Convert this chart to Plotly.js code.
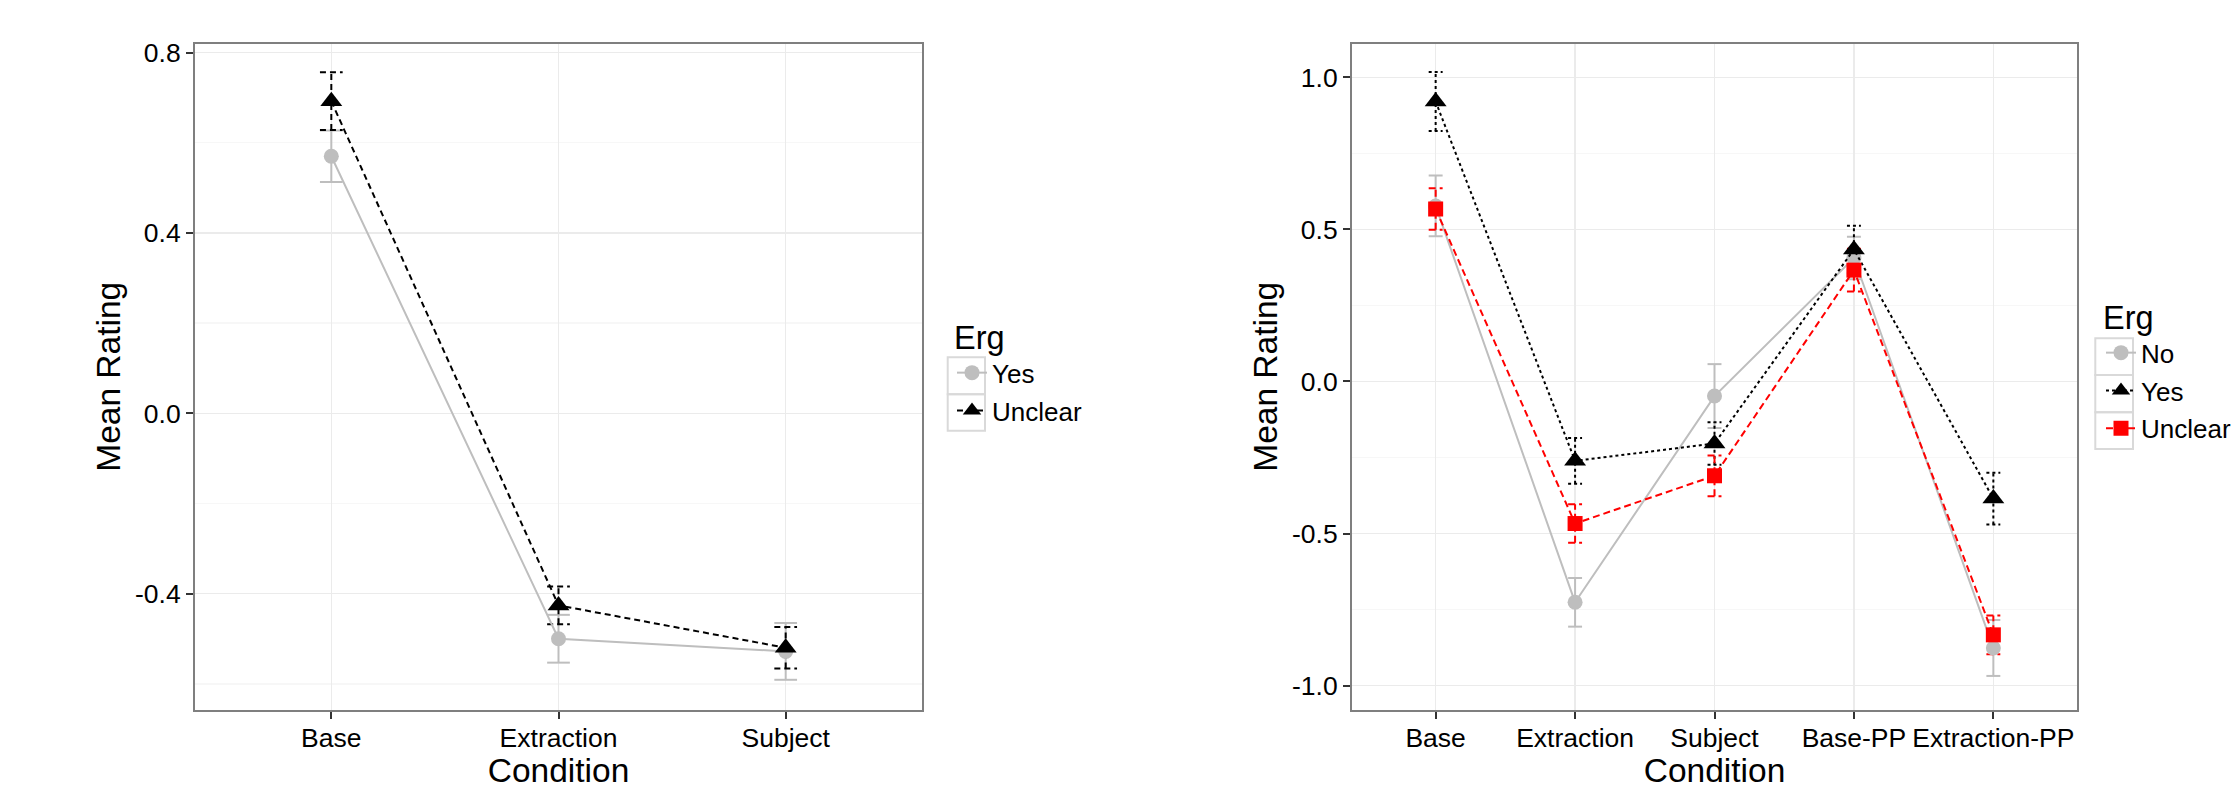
<!DOCTYPE html>
<html>
<head>
<meta charset="utf-8">
<script src="https://cdn.plot.ly/plotly-3.0.1.min.js"></script>
<style>
  html, body { margin: 0; padding: 0; background: #ffffff; }
  #chart { width: 2234px; height: 789px; }
</style>
</head>
<body>
<div id="chart"></div>
<script>
// ---------- Data ----------
const catsLeft = ['Base', 'Extraction', 'Subject'];
const leftYes = [0.570, -0.500, -0.528];
const leftYesSE = [0.057, 0.053, 0.063];
const leftUnclear = [0.692, -0.426, -0.520];
const leftUnclearSE = [0.064, 0.042, 0.046];
const leftYTicks = [-0.4, 0.0, 0.4, 0.8];
const leftYMinor = [-0.6, -0.2, 0.2, 0.6];

const catsRight = ['Base', 'Extraction', 'Subject', 'Base-PP', 'Extraction-PP'];
const rightNo = [0.577, -0.726, -0.048, 0.406, -0.876];
const rightNoSE = [0.100, 0.080, 0.105, 0.070, 0.092];
const rightYes = [0.920, -0.261, -0.204, 0.434, -0.385];
const rightYesSE = [0.097, 0.075, 0.070, 0.078, 0.085];
const rightUnclear = [0.567, -0.467, -0.310, 0.366, -0.833];
const rightUnclearSE = [0.068, 0.063, 0.067, 0.070, 0.064];
const rightYTicks = [-1.0, -0.5, 0.0, 0.5, 1.0];
const rightYMinor = [-0.75, -0.25, 0.25, 0.75];

const legendTitle = 'Erg';
const xTitle = 'Condition';
const yTitle = 'Mean Rating';

// ---------- Styles ----------
const FONT = 'Liberation Sans, Arial, sans-serif';
const GREY = '#bebebe';
const BLACK = '#000000';
const RED = '#ff0000';
const W = 2234, H = 789;
const CAP = 0.05;
const TICK_SIZE = 26.5;
const TITLE_SIZE = 33.5;

function idx(cats) { return cats.map((c, i) => i); }

function errorTrace(cats, vals, se, color, dash, xa, ya) {
  const x = [], y = [];
  vals.forEach((v, i) => {
    const lo = v - se[i], hi = v + se[i];
    x.push(i, i, null, i - CAP, i + CAP, null, i - CAP, i + CAP, null);
    y.push(lo, hi, null, hi, hi, null, lo, lo, null);
  });
  return {
    type: 'scatter', mode: 'lines', x: x, y: y, xaxis: xa, yaxis: ya,
    line: { color: color, width: 2, dash: dash },
    hoverinfo: 'skip', showlegend: false, connectgaps: false
  };
}

function seriesTrace(name, cats, vals, color, dash, symbol, msize, xa, ya, legend) {
  return {
    type: 'scatter', mode: 'lines+markers', name: name,
    x: idx(cats), y: vals, xaxis: xa, yaxis: ya,
    line: { color: color, width: 2, dash: dash },
    marker: { color: color, symbol: symbol, size: msize, line: { width: 0 } },
    legend: legend, legendgroup: legend + name
  };
}

const DASH_L = '6px,4px';
const DOT_R = '3px,3px';
const DASH_R = '7px,4px';

const traces = [
  errorTrace(catsLeft, leftYes, leftYesSE, GREY, 'solid', 'x', 'y'),
  errorTrace(catsLeft, leftUnclear, leftUnclearSE, BLACK, DASH_L, 'x', 'y'),
  errorTrace(catsRight, rightNo, rightNoSE, GREY, 'solid', 'x2', 'y2'),
  errorTrace(catsRight, rightYes, rightYesSE, BLACK, DOT_R, 'x2', 'y2'),
  errorTrace(catsRight, rightUnclear, rightUnclearSE, RED, DASH_R, 'x2', 'y2'),
  seriesTrace('Yes', catsLeft, leftYes, GREY, 'solid', 'circle', 15, 'x', 'y', 'legend'),
  seriesTrace('Unclear', catsLeft, leftUnclear, BLACK, DASH_L, 'triangle-up', 19, 'x', 'y', 'legend'),
  seriesTrace('No', catsRight, rightNo, GREY, 'solid', 'circle', 15, 'x2', 'y2', 'legend2'),
  seriesTrace('Yes', catsRight, rightYes, BLACK, DOT_R, 'triangle-up', 19, 'x2', 'y2', 'legend2'),
  seriesTrace('Unclear', catsRight, rightUnclear, RED, DASH_R, 'square', 15, 'x2', 'y2', 'legend2')
];

function px2x(p) { return p / W; }
function px2y(p) { return 1 - p / H; }

const yDomain = [px2y(710), px2y(43.5)];

function xAxis(cats, domain, anchor) {
  return {
    domain: domain, anchor: anchor,
    range: [-0.6, cats.length - 1 + 0.6],
    tickmode: 'array', tickvals: idx(cats), ticktext: cats,
    ticks: 'outside', ticklen: 7, tickwidth: 2, tickcolor: '#333333',
    ticklabelstandoff: -4,
    tickfont: { family: FONT, size: TICK_SIZE, color: '#000000' },
    showgrid: true, gridcolor: '#ebebeb', gridwidth: 1.5,
    showline: true, mirror: true, linecolor: '#7f7f7f', linewidth: 2,
    zeroline: false, fixedrange: true,
    title: { text: xTitle, font: { family: FONT, size: TITLE_SIZE, color: '#000000' }, standoff: 10 }
  };
}

function yAxis(ticks, minor, range, domain, anchor) {
  return {
    domain: domain, anchor: anchor, range: range,
    tickmode: 'array', tickvals: ticks, ticktext: ticks.map(v => v.toFixed(1)),
    ticks: 'outside', ticklen: 7, tickwidth: 2, tickcolor: '#333333',
    tickfont: { family: FONT, size: TICK_SIZE, color: '#000000' },
    showgrid: true, gridcolor: '#ebebeb', gridwidth: 1.5,
    minor: { tickmode: 'array', tickvals: minor, showgrid: true, gridcolor: '#f7f7f7', gridwidth: 1.5, ticks: '' },
    showline: true, mirror: true, linecolor: '#7f7f7f', linewidth: 2,
    zeroline: false, fixedrange: true,
    title: { text: yTitle, font: { family: FONT, size: TITLE_SIZE, color: '#000000' }, standoff: 4 }
  };
}

function legendBox(x0, x1, y0, y1) {
  return {
    type: 'rect', xref: 'paper', yref: 'paper', layer: 'below',
    x0: px2x(x0), x1: px2x(x1), y0: px2y(y1), y1: px2y(y0),
    line: { color: '#d9d9d9', width: 2 }, fillcolor: 'rgba(0,0,0,0)'
  };
}

const legendCommon = {
  xanchor: 'left', yanchor: 'top',
  bgcolor: 'rgba(0,0,0,0)', borderwidth: 0,
  font: { family: FONT, size: 26, color: '#000000' },
  title: { text: legendTitle, font: { family: FONT, size: 32.5, color: '#000000' } },
  itemwidth: 30, tracegroupgap: 1, traceorder: 'grouped', itemclick: false
};

const layout = {
  width: W, height: H,
  margin: { l: 0, r: 0, t: 0, b: 0, pad: 0, autoexpand: false },
  paper_bgcolor: '#ffffff', plot_bgcolor: '#ffffff',
  font: { family: FONT, color: '#000000' },
  showlegend: true,
  xaxis: xAxis(catsLeft, [px2x(195), px2x(922)], 'y'),
  yaxis: yAxis(leftYTicks, leftYMinor, [-0.658, 0.82], yDomain, 'x'),
  xaxis2: xAxis(catsRight, [px2x(1352), px2x(2077)], 'y2'),
  yaxis2: yAxis(rightYTicks, rightYMinor, [-1.08, 1.111], yDomain, 'x2'),
  legend: Object.assign({}, legendCommon, { x: px2x(952), y: px2y(307) }),
  legend2: Object.assign({}, legendCommon, { x: px2x(2101), y: px2y(287) }),
  shapes: [
    legendBox(947.7, 985, 357.3, 394.3),
    legendBox(947.7, 985, 394.3, 430.7),
    legendBox(2095.3, 2133, 338.3, 375),
    legendBox(2095.3, 2133, 375, 412.3),
    legendBox(2095.3, 2133, 412.3, 449)
  ]
};

Plotly.newPlot('chart', traces, layout, { staticPlot: true, displayModeBar: false });
</script>
</body>
</html>
